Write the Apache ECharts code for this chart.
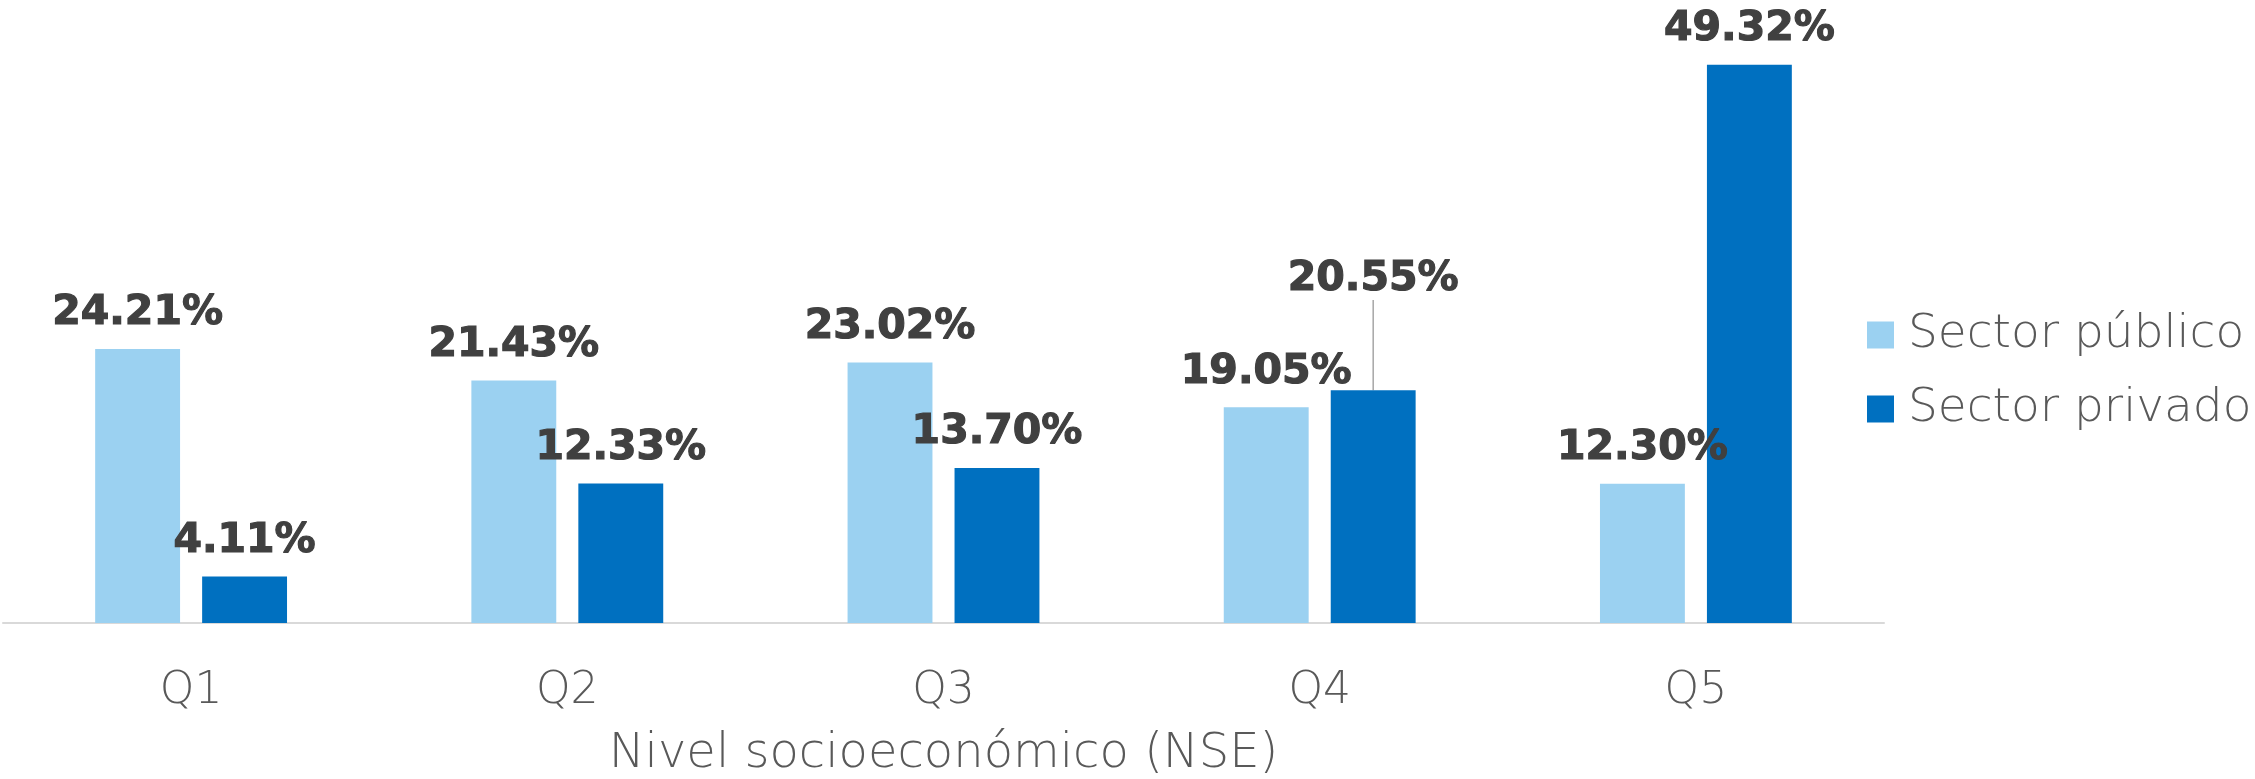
<!DOCTYPE html>
<html>
<head>
<meta charset="utf-8">
<script src="https://cdn.jsdelivr.net/npm/echarts@6/dist/echarts.min.js"></script>
<style>
html,body{margin:0;padding:0;background:#fff;}
#chart{width:2255px;height:779px;}
</style>
</head>
<body>
<div id="chart"></div>
<script>
const categories = ['Q1', 'Q2', 'Q3', 'Q4', 'Q5'];
const seriesNames = ['Sector público', 'Sector privado'];
const publicValues = [24.21, 21.43, 23.02, 19.05, 12.30];
const privateValues = [4.11, 12.33, 13.70, 20.55, 49.32];
const xAxisTitle = 'Nivel socioeconómico (NSE)';

const chart = echarts.init(document.getElementById('chart'), null, {renderer: 'canvas'});

const lightFont = {
  fontFamily: 'DejaVu Sans',
  fontWeight: 200,
  fontSize: 46,
  color: '#595959'
};

const labelStyle = {
  show: true,
  position: 'top',
  distance: 15,
  fontFamily: 'DejaVu Sans',
  fontWeight: 'bold',
  fontSize: 41,
  color: '#404040',
  textBorderColor: '#404040',
  textBorderWidth: 1.2,
  formatter: p => p.value.toFixed(2) + '%'
};

const privateData = privateValues.map((v, i) => {
  if (i === 3) {
    return {
      value: v,
      labelLine: {show: true, lineStyle: {color: '#A6A6A6', width: 1.5}}
    };
  }
  return v;
});

chart.setOption({
  animation: false,
  grid: {left: 3, right: 371, top: 57, bottom: 156, containLabel: false, outerBoundsMode: 'none'},
  legend: {
    orient: 'vertical',
    left: 1867,
    top: 311,
    padding: 0,
    itemWidth: 27,
    itemHeight: 27,
    itemGap: 26,
    icon: 'rect',
    textStyle: Object.assign({}, lightFont, {fontSize: 47, lineHeight: 48, padding: [0, 0, 0, 9]}),
    data: seriesNames
  },
  xAxis: {
    type: 'category',
    data: categories,
    axisLine: {show: true, lineStyle: {color: '#D9D9D9', width: 2}},
    axisTick: {show: false},
    axisLabel: Object.assign({margin: 47}, lightFont, {fontSize: 44}),
    name: xAxisTitle,
    nameLocation: 'middle',
    nameGap: 108,
    nameTextStyle: Object.assign({}, lightFont, {fontSize: 48})
  },
  yAxis: {
    type: 'value',
    min: 0,
    max: 50,
    show: false,
    splitLine: {show: false}
  },
  series: [
    {
      name: seriesNames[0],
      type: 'bar',
      data: publicValues,
      barGap: '26%',
      barCategoryGap: '49%',
      itemStyle: {color: '#9BD1F1'},
      label: labelStyle
    },
    {
      name: seriesNames[1],
      type: 'bar',
      data: privateData,
      itemStyle: {color: '#0070C0'},
      label: labelStyle,
      labelLayout: function (params) {
        if (params.dataIndex === 3) {
          return {dy: -76};
        }
        return {};
      }
    }
  ]
});
</script>
</body>
</html>
